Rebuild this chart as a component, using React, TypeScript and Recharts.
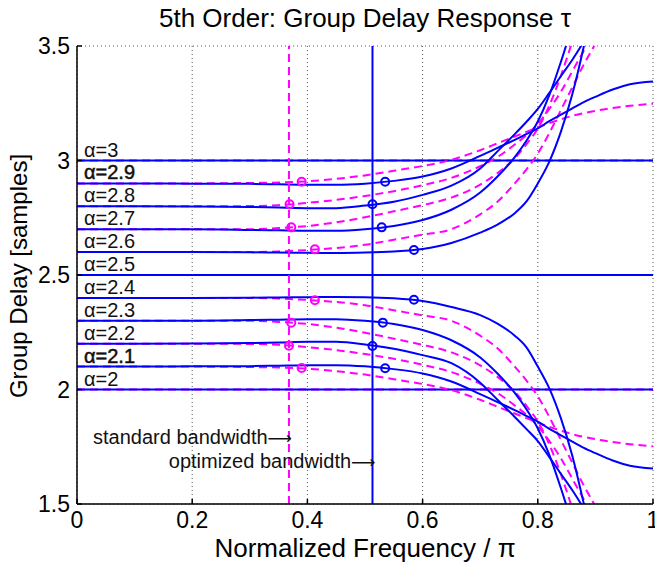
import React from "react";
import {
  ComposedChart,
  Line,
  Scatter,
  XAxis,
  YAxis,
  CartesianGrid,
  ReferenceLine,
  ReferenceDot,
} from "recharts";

// normalized frequency grid (x / pi)
const freq = [0, 0.1, 0.2, 0.3, 0.35, 0.4, 0.45, 0.5, 0.55, 0.6, 0.65, 0.7, 0.73, 0.76, 0.78, 0.8, 0.82, 0.84, 0.86, 0.88, 0.9, 0.93, 0.96, 1.0];

// optimized bandwidth design (blue, solid)
const blue21 = [2.1, 2.1, 2.101, 2.102, 2.104, 2.106, 2.106, 2.101, 2.089, 2.07, 2.035, 1.98, 1.945, 1.91, 1.885, 1.86, 1.828, 1.8, 1.772, 1.745, 1.722, 1.69, 1.667, 1.655];
const blue22 = [2.2, 2.2, 2.201, 2.203, 2.205, 2.208, 2.208, 2.197, 2.178, 2.15, 2.115, 2.03, 1.955, 1.88, 1.828, 1.775, 1.705, 1.632, 1.56, 1.48, null, null, null, null];
const blue23 = [2.3, 2.3, 2.3, 2.303, 2.305, 2.307, 2.307, 2.3, 2.286, 2.26, 2.215, 2.14, 2.07, 1.985, 1.915, 1.83, 1.715, 1.57, 1.41, null, null, null, null, null];
const blue24 = [2.4, 2.4, 2.4, 2.401, 2.402, 2.403, 2.404, 2.403, 2.398, 2.386, 2.36, 2.325, 2.288, 2.235, 2.185, 2.1, 2.005, 1.875, 1.71, 1.5, 1.27, null, null, null];
const blue26 = [2.6, 2.6, 2.6, 2.599, 2.598, 2.597, 2.596, 2.598, 2.603, 2.614, 2.64, 2.685, 2.72, 2.77, 2.82, 2.9, 2.995, 3.125, 3.29, 3.5, 3.75, null, null, null];
const blue27 = [2.7, 2.7, 2.7, 2.697, 2.695, 2.693, 2.693, 2.7, 2.714, 2.74, 2.785, 2.86, 2.93, 3.015, 3.085, 3.17, 3.285, 3.43, 3.59, null, null, null, null, null];
const blue28 = [2.8, 2.8, 2.799, 2.797, 2.795, 2.792, 2.792, 2.803, 2.82, 2.85, 2.89, 2.965, 3.04, 3.115, 3.168, 3.225, 3.295, 3.368, 3.44, 3.52, null, null, null, null];
const blue29 = [2.9, 2.9, 2.899, 2.898, 2.896, 2.894, 2.894, 2.899, 2.911, 2.93, 2.965, 3.02, 3.055, 3.09, 3.115, 3.14, 3.172, 3.2, 3.228, 3.255, 3.278, 3.31, 3.333, 3.345];

// standard bandwidth design (magenta, dashed)
const mag21 = [2.1, 2.1, 2.1, 2.098, 2.096, 2.091, 2.08, 2.065, 2.045, 2.024, 1.997, 1.955, 1.925, 1.895, 1.875, 1.855, 1.837, 1.82, 1.805, 1.793, 1.783, 1.771, 1.761, 1.752];
const mag22 = [2.2, 2.2, 2.2, 2.199, 2.195, 2.185, 2.172, 2.155, 2.134, 2.108, 2.076, 2.025, 1.985, 1.93, 1.89, 1.84, 1.775, 1.7, 1.61, 1.52, 1.43, null, null, null];
const mag23 = [2.3, 2.3, 2.3, 2.3, 2.295, 2.286, 2.27, 2.248, 2.222, 2.195, 2.162, 2.105, 2.055, 1.99, 1.93, 1.86, 1.76, 1.63, 1.48, null, null, null, null, null];
const mag24 = [2.4, 2.4, 2.4, 2.4, 2.397, 2.391, 2.382, 2.368, 2.346, 2.324, 2.3, 2.235, 2.18, 2.1, 2.04, 1.97, 1.88, 1.78, 1.68, 1.58, 1.49, 1.35, null, null];
const mag26 = [2.6, 2.6, 2.6, 2.6, 2.603, 2.609, 2.618, 2.632, 2.654, 2.676, 2.7, 2.765, 2.82, 2.9, 2.96, 3.03, 3.12, 3.22, 3.32, 3.42, 3.51, 3.65, null, null];
const mag27 = [2.7, 2.7, 2.7, 2.7, 2.705, 2.714, 2.73, 2.752, 2.778, 2.805, 2.838, 2.895, 2.945, 3.01, 3.07, 3.14, 3.24, 3.37, 3.52, null, null, null, null, null];
const mag28 = [2.8, 2.8, 2.8, 2.801, 2.805, 2.815, 2.828, 2.845, 2.866, 2.892, 2.924, 2.975, 3.015, 3.07, 3.11, 3.16, 3.225, 3.3, 3.39, 3.48, 3.57, null, null, null];
const mag29 = [2.9, 2.9, 2.9, 2.902, 2.904, 2.909, 2.92, 2.935, 2.955, 2.976, 3.003, 3.045, 3.075, 3.105, 3.125, 3.145, 3.163, 3.18, 3.195, 3.207, 3.217, 3.229, 3.239, 3.248];

// circles where each response leaves its tolerance
const blueMarkX = [0.535, 0.513, 0.531, 0.585, 0.585, 0.529, 0.513, 0.535];
const blueMarkY = [2.093, 2.19, 2.292, 2.392, 2.609, 2.708, 2.809, 2.907];
const magMarkX = [0.39, 0.368, 0.372, 0.413, 0.413, 0.372, 0.369, 0.39];
const magMarkY = [2.094, 2.191, 2.292, 2.39, 2.612, 2.708, 2.809, 2.907];

const alphaLevels = [2, 2.1, 2.2, 2.3, 2.4, 2.5, 2.6, 2.7, 2.8, 2.9, 3];
const alphaLabels = ["α=2", "α=2.1", "α=2.2", "α=2.3", "α=2.4", "α=2.5", "α=2.6", "α=2.7", "α=2.8", "α=2.9", "α=3"];
const flatLevels = [2, 2.5, 3];

const standardBw = 0.368;
const optimizedBw = 0.513;

const xTicks = [0, 0.2, 0.4, 0.6, 0.8, 1];
const yTicks = [1.5, 2, 2.5, 3, 3.5];

const keys = ["21", "22", "23", "24", "26", "27", "28", "29"];
const blueCurves = [blue21, blue22, blue23, blue24, blue26, blue27, blue28, blue29];
const magCurves = [mag21, mag22, mag23, mag24, mag26, mag27, mag28, mag29];

const rows = freq.map((f, i) => {
  const r: any = { f };
  keys.forEach((k, j) => {
    r["b" + k] = blueCurves[j][i];
    r["m" + k] = magCurves[j][i];
  });
  return r;
});

const blueMarks = blueMarkX.map((f, i) => ({ f, y: blueMarkY[i] }));
const magMarks = magMarkX.map((f, i) => ({ f, y: magMarkY[i] }));

const BLUE = "#0000ff";
const MAGENTA = "#ff00ff";
const FONT = "'Liberation Sans', Arial, Helvetica, sans-serif";

const circle = (color: string) => (p: any) => (
  <circle cx={p.cx} cy={p.cy} r={4} fill="none" stroke={color} strokeWidth={2} />
);

const arrowNote = (label: string) => (p: any) => (
  <text x={p.cx + 3} y={p.cy} textAnchor="end" fontSize={20} fill="#111" fontFamily={FONT}>
    {label}
    <tspan fontFamily="'DejaVu Sans'" fontSize={17}>⟶</tspan>
  </text>
);

export default function App() {
  return (
    <div style={{ position: "absolute", left: 0, top: 0, width: 655, height: 563, background: "#fff" }}>
      <ComposedChart
        width={655}
        height={563}
        data={rows}
        margin={{ top: 46, right: 2, bottom: 0, left: 0 }}
        style={{ fontFamily: FONT }}
      >
        <CartesianGrid stroke="#555" strokeDasharray="1 3" strokeWidth={1} />
        <XAxis
          dataKey="f"
          type="number"
          domain={[0, 1]}
          ticks={xTicks}
          height={59}
          tickSize={-5}
          tickMargin={13}
          stroke="#000"
          strokeWidth={1.5}
          tick={{ fill: "#000", fontSize: 23 }}
          tickFormatter={(v) => String(v)}
          interval={0}
        />
        <YAxis
          type="number"
          domain={[1.5, 3.5]}
          ticks={yTicks}
          allowDataOverflow
          width={77}
          tickSize={-5}
          tickMargin={12}
          stroke="#000"
          strokeWidth={1.5}
          tick={{ fill: "#000", fontSize: 23 }}
          tickFormatter={(v) => String(v)}
          interval={0}
        />

        {flatLevels.map((lv) => (
          <ReferenceLine key={"mf" + lv} y={lv} stroke={MAGENTA} strokeWidth={2} strokeDasharray="8 5" />
        ))}
        {flatLevels.map((lv) => (
          <ReferenceLine key={"bf" + lv} y={lv} stroke={BLUE} strokeWidth={2} />
        ))}

        {keys.map((k) => (
          <Line
            key={"m" + k}
            dataKey={"m" + k}
            type="monotone"
            stroke={MAGENTA}
            strokeWidth={2}
            strokeDasharray="8 5"
            dot={false}
            isAnimationActive={false}
          />
        ))}
        {keys.map((k) => (
          <Line
            key={"b" + k}
            dataKey={"b" + k}
            type="monotone"
            stroke={BLUE}
            strokeWidth={2}
            dot={false}
            isAnimationActive={false}
          />
        ))}

        <ReferenceLine x={standardBw} stroke={MAGENTA} strokeWidth={2} strokeDasharray="8 5" />
        <ReferenceLine x={optimizedBw} stroke={BLUE} strokeWidth={2} />

        <Scatter data={magMarks} dataKey="y" shape={circle(MAGENTA)} isAnimationActive={false} />
        <Scatter data={blueMarks} dataKey="y" shape={circle(BLUE)} isAnimationActive={false} />

        {alphaLevels.map((lv, i) => (
          <ReferenceDot
            key={"lab" + lv}
            x={0}
            y={lv}
            r={0}
            shape={(p: any) => (
              <text
                x={p.cx + 7}
                y={p.cy - 4}
                fontSize={20}
                fill="#111"
                stroke={lv === 2.1 || lv === 2.9 ? "#111" : "none"}
                strokeWidth={0.5}
                fontFamily={FONT}
              >
                {alphaLabels[i]}
              </text>
            )}
          />
        ))}

        <ReferenceDot x={standardBw} y={1.762} r={0} shape={arrowNote("standard bandwidth")} />
        <ReferenceDot x={optimizedBw} y={1.657} r={0} shape={arrowNote("optimized bandwidth")} />
      </ComposedChart>

      <svg
        width={655}
        height={563}
        style={{ position: "absolute", left: 0, top: 0, pointerEvents: "none" }}
        fontFamily={FONT}
      >
        <text x={365} y={27} textAnchor="middle" fontSize={26} fill="#000">
          5th Order: Group Delay Response τ
        </text>
        <text x={365} y={557} textAnchor="middle" fontSize={26} fill="#000">
          Normalized Frequency / π
        </text>
        <text x={27} y={276} textAnchor="middle" fontSize={24} fill="#000" transform="rotate(-90 27 276)">
          Group Delay [samples]
        </text>
      </svg>
    </div>
  );
}
